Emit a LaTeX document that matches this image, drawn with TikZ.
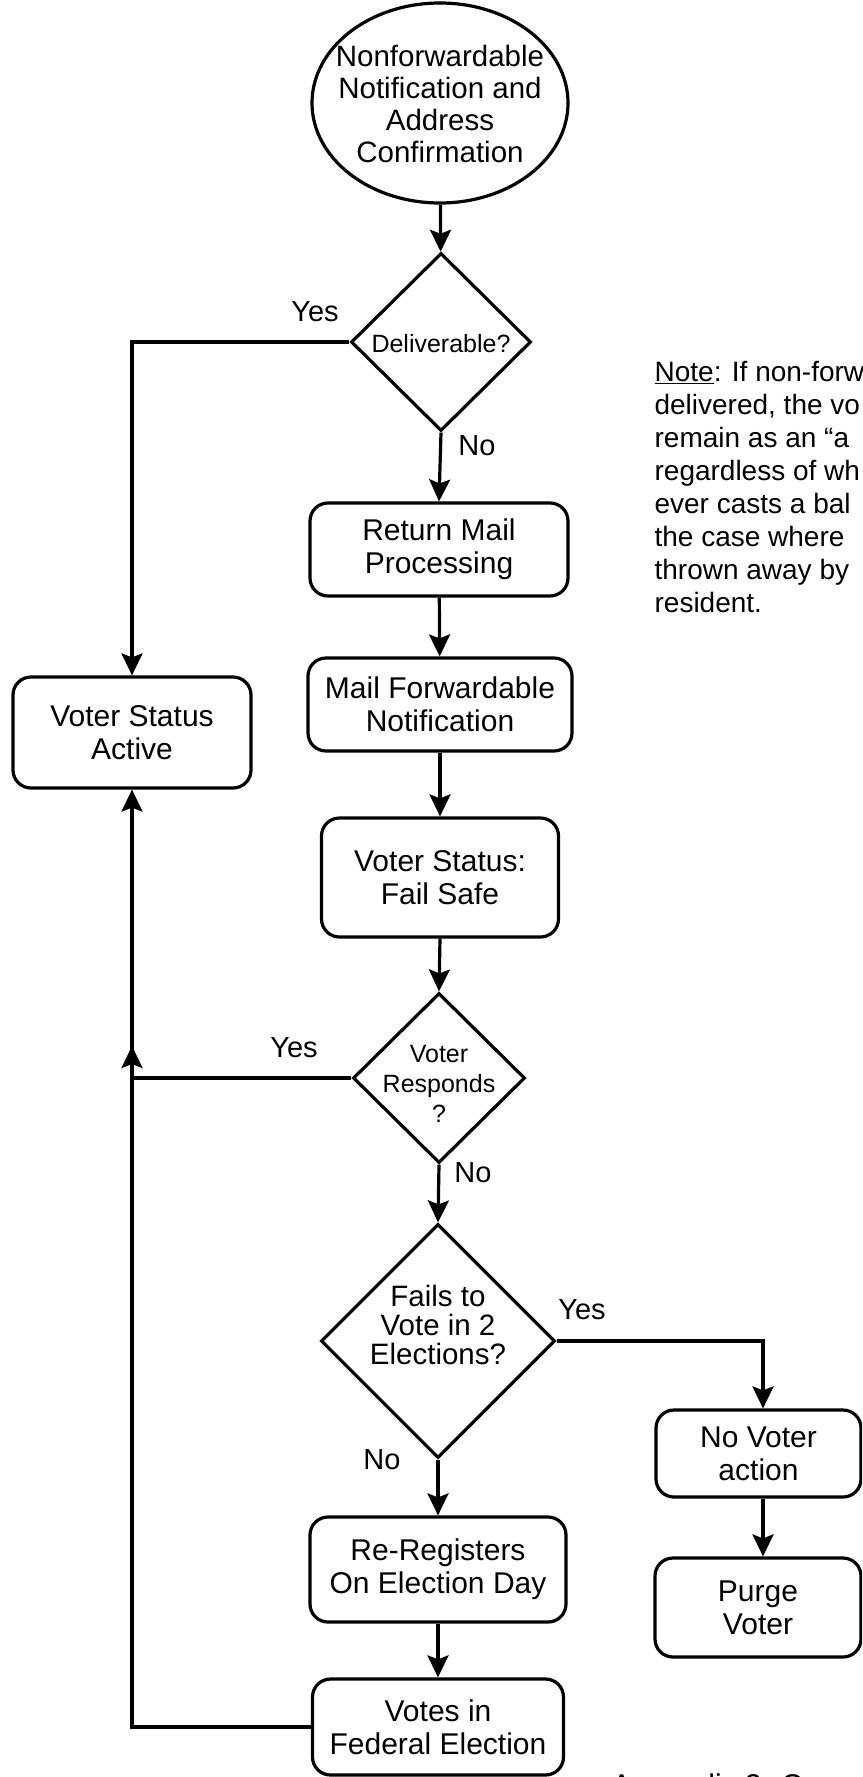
\documentclass[tikz,border=0pt]{standalone}
\usepackage{fontspec}
\setmainfont{Liberation Sans}
\usetikzlibrary{shapes.geometric,arrows.meta,calc}

\newcommand\flowfont{\fontsize{30}{33}\selectfont}
\newcommand\ovalfont{\fontsize{29.5}{32}\selectfont}
\newcommand\qfont{\fontsize{29.5}{29}\selectfont}
\newcommand\smallqfont{\fontsize{25}{30}\selectfont}
\newcommand\notefont{\fontsize{28}{33}\selectfont}

\begin{document}
\begin{tikzpicture}[x=1pt,y=-1pt,
  line width=3.2pt,
  >={Stealth[length=22pt,width=21pt,inset=4pt]},
  box/.style={draw, rectangle, rounded corners=18pt, align=center,
              inner sep=0pt, font=\flowfont},
  decision/.style={draw, diamond, inner sep=0pt},
  lbl/.style={inner sep=0pt, font=\fontsize{29}{32}\selectfont},
  flow/.style={->, line join=miter}
]
\useasboundingbox (0,0) rectangle (862,1777);
\clip (0,0) rectangle (862,1777);

% start oval
\node[draw, ellipse, minimum width=256pt, minimum height=200pt, inner sep=0pt] (start) at (440,103) {};
\node[align=center, font=\ovalfont, inner sep=0pt] (starttxt) at (440,104)
  {Nonforwardable\\Notification and\\Address\\Confirmation};

% first decision
\node[decision, minimum width=180pt, minimum height=178pt] (deliv) at (441,342) {};
\node[font=\smallqfont, inner sep=0pt] (delivtxt) at (441,344) {Deliverable?};

% main column
\node[box, minimum width=258pt, minimum height=93pt]  (ret)   at (439,549.5) {Return Mail\\Processing};
\node[box, minimum width=264pt, minimum height=93pt]  (fwd)   at (440,704.5) {Mail Forwardable\\Notification};
\node[box, minimum width=237pt, minimum height=119pt] (fail)  at (440,877.5) {Voter Status:\\Fail Safe};

\node[decision, minimum width=172pt, minimum height=170pt] (resp) at (439,1078) {};
\node[align=center, font=\smallqfont, inner sep=0pt] (resptxt) at (439,1084) {Voter\\Responds\\?};

\node[decision, minimum width=234pt, minimum height=234pt] (fails) at (438,1341) {};
\node[align=center, font=\qfont, inner sep=0pt] (failstxt) at (438,1325) {Fails to\\Vote in 2\\Elections?};

\node[box, minimum width=256pt, minimum height=105pt] (rereg) at (438,1569.5) {Re-Registers\\On Election Day};
\node[box, minimum width=251pt, minimum height=96pt]  (votes) at (438,1727) {Votes in\\Federal Election};

% left and right boxes
\node[box, minimum width=238pt, minimum height=111pt] (active) at (132,732.5) {Voter Status\\Active};
\node[box, minimum width=205pt, minimum height=87pt]  (nva)    at (758.5,1453.5) {No Voter\\action};
\node[box, minimum width=206pt, minimum height=99pt]  (purge)  at (758,1607.5) {Purge\\Voter};

% helper points for the connectors
\coordinate (yc) at (763,0);
\coordinate (jn) at (132,1046);

% connectors
\draw[flow] (start) -- (deliv);
\draw[flow] (deliv.south) -- (ret.north);
\draw[flow] (ret) -- (fwd);
\draw[flow] (fwd) -- (fail);
\draw[flow] (fail.south) -- (resp.north);
\draw[flow] (resp.south) -- (fails.north);
\draw[flow] (fails.south) -- (rereg.north);
\draw[flow] (rereg) -- (votes);
\draw[flow] (deliv.west) -| (active.north);
\draw[flow] (resp.west) -| (active.south);
\draw[flow] (votes.west) -| (jn);
\draw[flow] (fails.east) -| (nva.north -| yc);
\draw[flow] (nva.south -| yc) -- (purge.north -| yc);

% branch labels
\node[lbl] (yes1) at (315,312) {Yes};
\node[lbl] (no1)  at (477,446) {No};
\node[lbl] (yes2) at (294,1048) {Yes};
\node[lbl] (no2)  at (473,1173) {No};
\node[lbl] (yes3) at (582,1310) {Yes};
\node[lbl] (no3)  at (382,1460) {No};

% side note
\node[anchor=north west, align=left, font=\notefont, inner sep=0pt] (note) at (653,360)
  {\underline{Note}: If non-forw\\delivered, the vo\\remain as an “a\\regardless of wh\\ever casts a bal\\the case where\\thrown away by\\resident.};

% caption at the foot of the page
\node[anchor=base west, font=\fontsize{30}{33}\selectfont, inner sep=0pt] (appx) at (610,1795) {Appendix 2: Co};
\end{tikzpicture}
\end{document}
